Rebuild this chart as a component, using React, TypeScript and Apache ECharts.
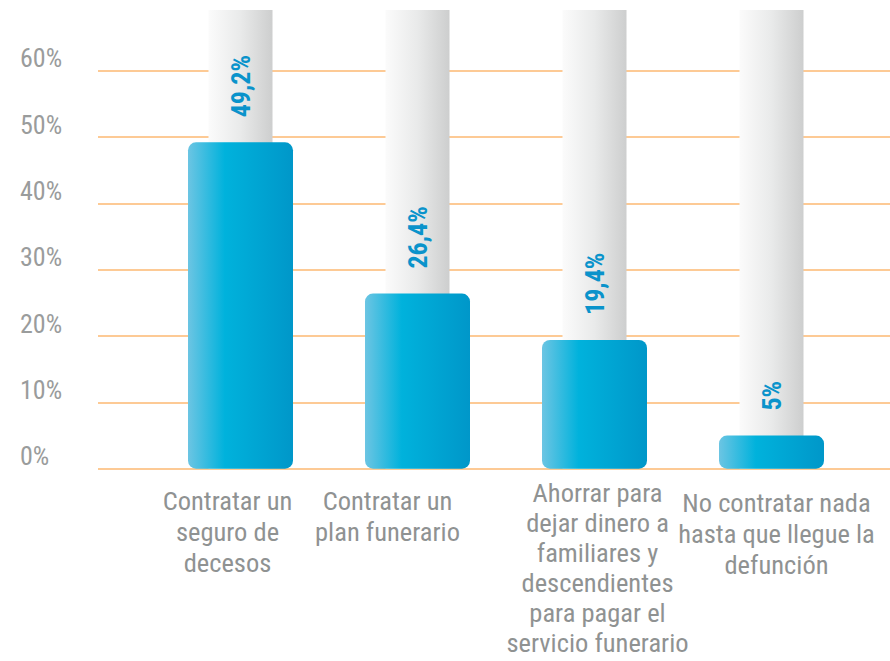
import React, { useEffect, useRef } from "react";
import * as echarts from "echarts";

const categories = [
  "Contratar un\nseguro de\ndecesos",
  "Contratar un\nplan funerario",
  "Ahorrar para\ndejar dinero a\nfamiliares y\ndescendientes\npara pagar el\nservicio funerario",
  "No contratar nada\nhasta que llegue la\ndefunción",
];
const values = [49.2, 26.4, 19.4, 5];
const yTickMax = 60;
const yTickStep = 10;
const trackMax = 69.15;

// per-label nudges [left pad, right pad, top pad, line height]
const labelPads = [
  [0, 26, 7, 31],
  [0, 60, 7, 31],
  [6, 0, 0, 30],
  [10, 0, 9, 31],
];

const FONT = "'Liberation Sans Narrow', 'Roboto Condensed', 'Arial Narrow', Roboto, sans-serif";

export default function App() {
  const ref = useRef<HTMLDivElement>(null);
  useEffect(() => {
    if (!ref.current) return;
    const chart = echarts.init(ref.current, null, { renderer: "svg" });
    const blue = new echarts.graphic.LinearGradient(0, 0, 1, 0, [
      { offset: 0, color: "#6cc5e3" },
      { offset: 0.35, color: "#00b2dc" },
      { offset: 1, color: "#0097c9" },
    ]);
    const gray = new echarts.graphic.LinearGradient(0, 0, 1, 0, [
      { offset: 0, color: "#fbfbfb" },
      { offset: 0.5, color: "#e9eaea" },
      { offset: 1, color: "#cdcece" },
    ]);
    chart.setOption({
      animation: false,
      backgroundColor: "#ffffff",
      grid: [
        { left: 98, right: 0, top: 70.7, bottom: 192.3, outerBoundsMode: "none", containLabel: false },
        { left: 152, right: 30, top: 10, bottom: 192.3, outerBoundsMode: "none", containLabel: false },
      ],
      xAxis: [
        { type: "category", gridIndex: 0, show: false, data: categories },
        {
          type: "category",
          gridIndex: 1,
          position: "bottom",
          data: categories.map((c, i) => ({
            value: c,
            textStyle: {
              padding: [labelPads[i][2], labelPads[i][1], 0, labelPads[i][0]],
              lineHeight: labelPads[i][3],
            },
          })),
          axisLine: { show: false },
          axisTick: { show: false },
          axisLabel: {
            interval: 0,
            margin: 9,
            fontFamily: FONT,
            fontSize: 26.5,
            lineHeight: 31,
            color: "#8f9292",
            align: "center",
          },
        },
        { type: "category", gridIndex: 1, position: "top", show: false, data: categories },
      ],
      yAxis: [
        {
          type: "value",
          gridIndex: 0,
          min: 0,
          max: yTickMax,
          interval: yTickStep,
          axisLine: { show: false },
          axisTick: { show: false },
          splitLine: { lineStyle: { color: "#fcb872", width: 1.5 } },
          axisLabel: {
            formatter: "{value}%",
            margin: 78,
            align: "left",
            verticalAlign: "bottom",
            lineHeight: 25,
            fontFamily: FONT,
            fontSize: 26,
            color: "#9a9c9c",
          },
        },
        { type: "value", gridIndex: 1, min: 0, max: trackMax, show: false },
      ],
      series: [
        {
          type: "bar",
          xAxisIndex: 2,
          yAxisIndex: 1,
          barWidth: 64,
          data: values,
          itemStyle: { color: "rgba(0,0,0,0)" },
          showBackground: true,
          backgroundStyle: { color: gray },
          z: 2,
        },
        {
          type: "bar",
          xAxisIndex: 1,
          yAxisIndex: 1,
          barWidth: 105,
          data: values,
          itemStyle: { color: blue, borderRadius: 8 },
          z: 3,
          label: {
            show: true,
            position: "top",
            distance: 25,
            rotate: 90,
            align: "left",
            verticalAlign: "middle",
            fontFamily: FONT,
            fontWeight: "bold",
            fontSize: 26,
            color: "#0a93cb",
            formatter: (p: any) => String(p.value).replace(".", ",") + "%",
          },
        },
      ],
    });
    return () => chart.dispose();
  }, []);
  return (
    <div
      ref={ref}
      style={{ position: "fixed", left: 0, top: 0, width: 890, height: 661 }}
    />
  );
}
